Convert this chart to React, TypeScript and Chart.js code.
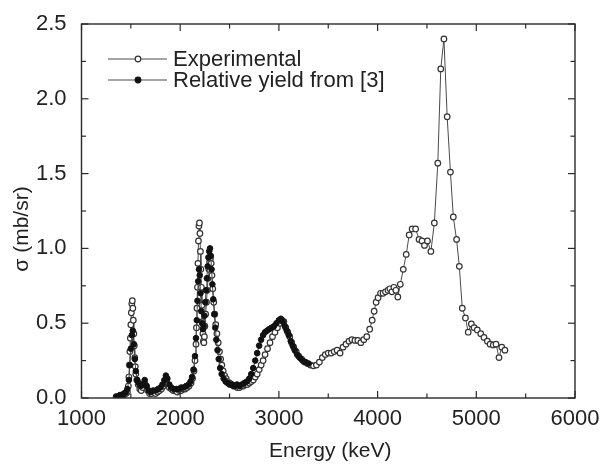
import { useEffect, useRef } from "react";
import { Chart, registerables } from "chart.js";

Chart.register(...registerables);

// Measured differential cross section (open circles)
const expEnergy = [
  1430, 1450, 1465, 1475, 1480, 1485, 1490, 1495, 1500, 1505, 1510, 1515, 1520, 1525, 1530, 1535,
  1540, 1545, 1550, 1560, 1575, 1590, 1605, 1620, 1640, 1655, 1670, 1690, 1710, 1730, 1750, 1770,
  1790, 1810, 1830, 1845, 1860, 1875, 1890, 1910, 1930, 1950, 1970, 1990, 2010, 2030, 2050, 2070,
  2090, 2110, 2125, 2140, 2150, 2160, 2165, 2170, 2175, 2180, 2185, 2190, 2195, 2200, 2205, 2210,
  2215, 2220, 2225, 2230, 2235, 2240, 2245, 2250, 2258, 2266, 2274, 2282, 2290, 2298, 2306, 2314,
  2322, 2330, 2340, 2350, 2360, 2372, 2385, 2398, 2410, 2422, 2435, 2450, 2465, 2480, 2500, 2520,
  2540, 2560, 2580, 2600, 2620, 2640, 2660, 2680, 2700, 2720, 2740, 2760, 2780, 2800, 2820, 2840,
  2860, 2885, 2910, 2935, 2960, 2985, 3010, 3030, 3050, 3070, 3090, 3110, 3130, 3150, 3175, 3200,
  3230, 3260, 3290, 3320, 3350, 3380, 3410, 3440, 3470, 3500, 3530, 3560, 3590, 3620, 3650, 3680,
  3710, 3740, 3770, 3800, 3830, 3860, 3890, 3920, 3945, 3965, 3985, 4005, 4030, 4055, 4080, 4105,
  4125, 4145, 4165, 4185, 4205, 4230, 4260, 4290, 4320, 4350, 4385, 4420, 4450, 4475, 4505, 4540,
  4575, 4610, 4640, 4672, 4705, 4738, 4767, 4800, 4828, 4858, 4890, 4918, 4950, 4978, 5010, 5045,
  5078, 5112, 5140, 5172, 5200, 5230, 5258, 5290,
];
const expSigma = [
  0.02, 0.03, 0.04, 0.08, 0.14, 0.22, 0.31, 0.4, 0.49, 0.57, 0.63, 0.65, 0.6, 0.52, 0.43, 0.35,
  0.27, 0.21, 0.16, 0.12, 0.09, 0.06, 0.05, 0.07, 0.1, 0.08, 0.05, 0.03, 0.03, 0.04, 0.03, 0.04,
  0.05, 0.06, 0.08, 0.1, 0.11, 0.09, 0.07, 0.06, 0.05, 0.05, 0.04, 0.05, 0.05, 0.06, 0.06, 0.07,
  0.08, 0.1, 0.13, 0.18, 0.25, 0.36, 0.47, 0.6, 0.74, 0.9, 1.05, 1.15, 1.17, 1.1, 0.98, 0.86,
  0.74, 0.62, 0.51, 0.43, 0.38, 0.37, 0.41, 0.48, 0.56, 0.64, 0.72, 0.8, 0.86, 0.91, 0.93, 0.9,
  0.82, 0.73, 0.64, 0.56, 0.49, 0.43, 0.37, 0.31, 0.26, 0.22, 0.18, 0.15, 0.13, 0.11, 0.1, 0.09,
  0.08, 0.08, 0.07, 0.07, 0.08, 0.08, 0.09, 0.09, 0.1, 0.11, 0.12, 0.14, 0.16, 0.19, 0.22, 0.25,
  0.29, 0.33, 0.37, 0.41, 0.44, 0.47, 0.5, 0.52, 0.51, 0.47, 0.44, 0.41, 0.37, 0.34, 0.31, 0.28,
  0.26, 0.24, 0.23, 0.22, 0.215, 0.22, 0.24, 0.27, 0.29, 0.3, 0.3, 0.31, 0.32, 0.3, 0.34, 0.36,
  0.38, 0.39, 0.385, 0.385, 0.37, 0.39, 0.41, 0.46, 0.52, 0.58, 0.64, 0.67, 0.7, 0.7, 0.71, 0.72,
  0.73, 0.71, 0.74, 0.72, 0.675, 0.76, 0.86, 0.96, 1.09, 1.13, 1.13, 1.06, 1.05, 1.02, 1.05, 0.98,
  1.17, 1.57, 2.2, 2.4, 1.88, 1.51, 1.21, 1.06, 0.88, 0.6, 0.535, 0.44, 0.495, 0.47, 0.455, 0.43,
  0.405, 0.38, 0.36, 0.355, 0.36, 0.27, 0.34, 0.32,
];

// Relative yield from ref. [3] (filled circles)
const relEnergy = [
  1350, 1370, 1390, 1410, 1430, 1450, 1465, 1480, 1490, 1500, 1510, 1520, 1530, 1540, 1550, 1565,
  1580, 1600, 1620, 1640, 1660, 1680, 1700, 1725, 1750, 1775, 1800, 1820, 1840, 1855, 1870, 1890,
  1910, 1935, 1960, 1985, 2010, 2035, 2060, 2085, 2105, 2120, 2135, 2150, 2160, 2168, 2175, 2182,
  2190, 2198, 2206, 2214, 2222, 2230, 2238, 2246, 2254, 2262, 2270, 2278, 2286, 2294, 2302, 2310,
  2318, 2326, 2335, 2345, 2355, 2366, 2378, 2390, 2405, 2420, 2440, 2460, 2480, 2500, 2525, 2550,
  2575, 2600, 2625, 2650, 2675, 2700, 2720, 2740, 2760, 2780, 2800, 2820, 2840, 2860, 2880, 2900,
  2925, 2950, 2975, 3000, 3020, 3040, 3060, 3080, 3100, 3120, 3140, 3160, 3185, 3210, 3240, 3270,
  3300,
];
const relSigma = [
  0.01, 0.01, 0.02, 0.02, 0.03, 0.04, 0.06, 0.12, 0.22, 0.33, 0.42, 0.45, 0.36, 0.26, 0.18, 0.12,
  0.1, 0.08, 0.09, 0.12, 0.08, 0.05, 0.04, 0.05, 0.05, 0.06, 0.07, 0.09, 0.12, 0.15, 0.13, 0.09,
  0.07, 0.06, 0.06, 0.06, 0.07, 0.07, 0.08, 0.09, 0.11, 0.14, 0.19, 0.28, 0.4, 0.52, 0.65, 0.78,
  0.86, 0.82, 0.7, 0.58, 0.5, 0.46, 0.48, 0.55, 0.64, 0.72, 0.8, 0.88, 0.94, 0.98, 1.0, 0.95,
  0.86, 0.76, 0.66, 0.56, 0.47, 0.39, 0.32, 0.26, 0.2, 0.16, 0.13, 0.11, 0.1, 0.09, 0.09, 0.08,
  0.09, 0.08, 0.09, 0.1, 0.11, 0.13, 0.16, 0.2, 0.25, 0.3, 0.35, 0.39, 0.42, 0.44, 0.45, 0.46,
  0.47, 0.48, 0.5, 0.52, 0.53, 0.51, 0.48, 0.45, 0.42, 0.38, 0.35, 0.32, 0.29, 0.27, 0.25, 0.24,
  0.23,
];

const xMajorTicks = [1000, 2000, 3000, 4000, 5000, 6000];
const yMajorTicks = [0, 0.5, 1.0, 1.5, 2.0, 2.5];
const seriesLabels = ["Experimental", "Relative yield from [3]"];
const xTitle = "Energy (keV)";
const yTitle = "σ (mb/sr)";

const FONT = "'Liberation Sans', Arial, sans-serif";
const INK = "#222";
const LINE = "#4a4a4a";

// Box frame with inward major/minor ticks on all four sides, axis titles and legend
const decorPlugin = {
  id: "decor",
  afterDatasetsDraw(chart: any) {
    const { ctx, chartArea: a, scales } = chart;
    const xs = scales.x;
    const ys = scales.y;
    ctx.save();
    ctx.strokeStyle = "#2a2a2a";
    ctx.lineWidth = 1.4;
    ctx.strokeRect(a.left, a.top, a.right - a.left, a.bottom - a.top);

    const seg = (x1: number, y1: number, x2: number, y2: number) => {
      ctx.beginPath();
      ctx.moveTo(x1, y1);
      ctx.lineTo(x2, y2);
      ctx.stroke();
    };
    ctx.lineWidth = 1.2;
    const xStep = xMajorTicks[1] - xMajorTicks[0];
    for (let i = 0; i < xMajorTicks.length; i++) {
      const v = xMajorTicks[i];
      const p = xs.getPixelForValue(v);
      seg(p, a.bottom, p, a.bottom - 7);
      seg(p, a.top, p, a.top + 7);
      if (i < xMajorTicks.length - 1) {
        const q = xs.getPixelForValue(v + xStep / 2);
        seg(q, a.bottom, q, a.bottom - 4.5);
        seg(q, a.top, q, a.top + 4.5);
      }
    }
    const yStep = yMajorTicks[1] - yMajorTicks[0];
    for (let i = 0; i < yMajorTicks.length; i++) {
      const v = yMajorTicks[i];
      const p = ys.getPixelForValue(v);
      seg(a.left, p, a.left + 7, p);
      seg(a.right, p, a.right - 7, p);
      if (i < yMajorTicks.length - 1) {
        const q = ys.getPixelForValue(v + yStep / 2);
        seg(a.left, q, a.left + 4.5, q);
        seg(a.right, q, a.right - 4.5, q);
      }
    }

    // axis titles
    ctx.fillStyle = INK;
    ctx.font = `21px ${FONT}`;
    ctx.textAlign = "center";
    ctx.textBaseline = "middle";
    ctx.fillText(xTitle, (a.left + a.right) / 2 + 2, 451);
    ctx.save();
    ctx.translate(22.5, 229);
    ctx.rotate(-Math.PI / 2);
    ctx.fillText(yTitle, 0, 0);
    ctx.restore();

    // legend
    const rows = [
      { y: 59, fill: "#ffffff", stroke: "#333" },
      { y: 80, fill: "#111", stroke: "#111" },
    ];
    ctx.textAlign = "left";
    ctx.font = `22px ${FONT}`;
    rows.forEach((r, i) => {
      ctx.strokeStyle = LINE;
      ctx.lineWidth = 1;
      seg(108, r.y, 167, r.y);
      ctx.beginPath();
      ctx.arc(138, r.y, 2.8, 0, Math.PI * 2);
      ctx.fillStyle = r.fill;
      ctx.fill();
      ctx.strokeStyle = r.stroke;
      ctx.lineWidth = 1.2;
      ctx.stroke();
      ctx.fillStyle = INK;
      ctx.fillText(seriesLabels[i], 173, r.y + 1);
    });
    ctx.restore();
  },
};

export default function App() {
  const ref = useRef<HTMLCanvasElement | null>(null);

  useEffect(() => {
    if (!ref.current) return;
    const chart = new Chart(ref.current, {
      type: "line",
      data: {
        datasets: [
          {
            label: seriesLabels[0],
            data: expEnergy.map((e, i) => ({ x: e, y: expSigma[i] })),
            borderColor: LINE,
            borderWidth: 1,
            pointRadius: 2.8,
            pointBorderWidth: 1.2,
            pointBorderColor: "#333",
            pointBackgroundColor: "#ffffff",
            tension: 0,
            order: 2,
          },
          {
            label: seriesLabels[1],
            data: relEnergy.map((e, i) => ({ x: e, y: relSigma[i] })),
            borderColor: LINE,
            borderWidth: 1,
            pointRadius: 2.8,
            pointBorderWidth: 1,
            pointBorderColor: "#111",
            pointBackgroundColor: "#111",
            tension: 0,
            order: 1,
          },
        ],
      },
      options: {
        animation: false,
        responsive: false,
        devicePixelRatio: 1,
        layout: { padding: { top: 24, right: 26, left: 0, bottom: 0 } },
        plugins: { legend: { display: false }, tooltip: { enabled: false } },
        scales: {
          x: {
            type: "linear",
            min: xMajorTicks[0],
            max: xMajorTicks[xMajorTicks.length - 1],
            grid: { display: false },
            border: { display: false },
            ticks: {
              stepSize: xMajorTicks[1] - xMajorTicks[0],
              padding: 0,
              color: INK,
              font: { family: FONT, size: 22 },
              maxRotation: 0,
              callback: (v: any) => String(v),
            },
            afterFit: (s: any) => {
              s.height = 68;
            },
          },
          y: {
            min: yMajorTicks[0],
            max: yMajorTicks[yMajorTicks.length - 1],
            grid: { display: false },
            border: { display: false },
            ticks: {
              stepSize: yMajorTicks[1] - yMajorTicks[0],
              padding: 7,
              color: INK,
              font: { family: FONT, size: 22 },
              callback: (v: any) => Number(v).toFixed(1),
            },
            afterFit: (s: any) => {
              s.width = 81.5;
            },
          },
        },
      },
      plugins: [decorPlugin],
    });
    return () => chart.destroy();
  }, []);

  return (
    <div style={{ position: "fixed", left: 0, top: 0, width: 601, height: 466, background: "#fff" }}>
      <canvas ref={ref} width={601} height={466} style={{ display: "block" }} />
    </div>
  );
}
